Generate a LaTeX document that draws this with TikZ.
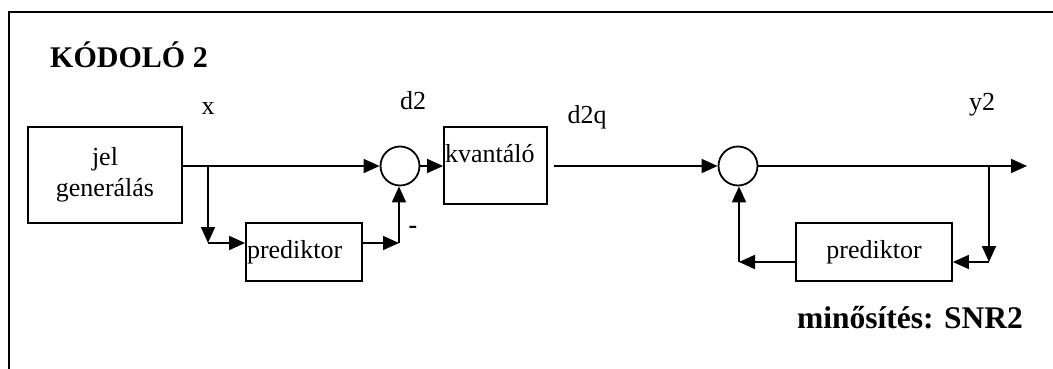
\documentclass[tikz,border=0pt]{standalone}
\usepackage{fontspec}
\setmainfont{Liberation Serif}
\usetikzlibrary{positioning, arrows.meta}

\begin{document}
\begin{tikzpicture}[
      x=1pt, y=-1pt,
      line width=1.8pt,
      txt/.style={font=\fontsize{26}{31}\selectfont},
      title/.style={font=\fontsize{30}{36}\selectfont\bfseries},
      block/.style={rectangle, draw, txt, align=center},
      sum/.style={circle, draw, minimum size=39pt, inner sep=0pt},
      arrow/.style={-{Triangle[length=16pt, width=14pt]}},
    ]
    \useasboundingbox (0,0) rectangle (1053,369);
    \draw (9,369) -- (9,12) -- (1053,12);

    \node[title, anchor=west] (head) at (46,55) {KÓDOLÓ 2};
    \node[block, minimum width=154pt, minimum height=96pt] (gen) at (105,175) {jel\\generálás};
    \node[block, minimum height=58pt, text width=114pt, inner xsep=1pt, align=left] (pred1) at (304,252) {prediktor};
    \node[sum] (sum1) at (400,166) {};
    \node[block, text width=101pt, inner xsep=1pt, inner ysep=0pt,
          text height=35pt, text depth=42pt, align=left] (kv) at (495.5,165.5) {kvantáló};
    \node[sum] (sum2) at (738,166) {};
    \node[block, minimum width=156pt, minimum height=58pt] (pred2) at (874,252) {prediktor};

    \node[txt] (lx) at (208,109) {x};
    \node[txt] (ld2) at (413,101) {d2};
    \node[txt] (ld2q) at (587,117) {d2q};
    \node[txt] (ly2) at (982,105) {y2};
    \node[txt, font=\fontsize{26}{31}\selectfont\bfseries] (lneg) at (413,230) {-};
    \node[title, font=\fontsize{31.5}{36}\selectfont\bfseries] (snr) at (910,318) {minősítés: SNR2};

    \coordinate (split1) at (208,166);
    \coordinate (down1) at (208,243);
    \coordinate (corner1) at (399,243);
    \coordinate (out) at (1027,166);
    \coordinate (split2) at (989,166);
    \coordinate (down2) at (989,262);
    \coordinate (corner2) at (739,262);

    \draw[arrow] (gen.east |- sum1.west) -- (sum1.west);
    \draw[arrow] (split1) -- (down1);
    \draw[arrow] (down1) -- (pred1.west |- down1);
    \draw[arrow] (pred1.east |- corner1) -- (corner1);
    \draw[arrow] (corner1) -- (sum1.south -| corner1);
    \draw[arrow] (sum1.east) -- (kv.west |- sum1.east);
    \draw[arrow] ([xshift=6pt]kv.east |- sum2.west) -- (sum2.west);
    \draw[arrow] (sum2.east) -- (out);
    \draw[arrow] (split2) -- (down2);
    \draw[arrow] (down2) -- (pred2.east |- down2);
    \draw[arrow] (pred2.west |- corner2) -- (corner2);
    \draw[arrow] (corner2) -- (sum2.south -| corner2);
  \end{tikzpicture}
\end{document}
